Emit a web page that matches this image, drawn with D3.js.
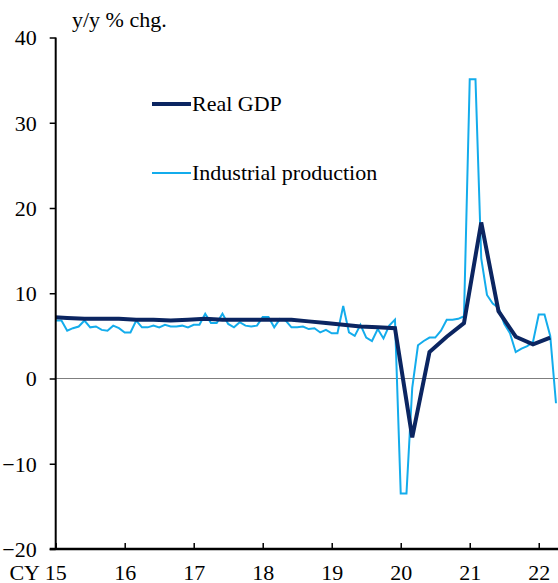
<!DOCTYPE html>
<html>
<head>
<meta charset="utf-8">
<script src="https://cdn.jsdelivr.net/npm/d3@7"></script>
<style>
  html, body { margin: 0; padding: 0; background: #fff; }
  svg { display: block; font-family: "Liberation Serif", "Times New Roman", serif; }
</style>
</head>
<body>
<div id="chart"></div>
<script>
// China: real GDP (quarterly, plotted at quarter end) and industrial production (monthly), y/y %
const yTicks = [-20, -10, 0, 10, 20, 30, 40];
const xTicks = [2015, 2016, 2017, 2018, 2019, 2020, 2021, 2022];
const xTickLabels = ['CY 15', '16', '17', '18', '19', '20', '21', '22'];
const seriesNames = ['Real GDP', 'Industrial production'];

// quarterly, 2014Q4 .. 2022Q1
const gdpValues = [
  7.2,
  7.1, 7.0, 7.0, 7.0,
  6.9, 6.9, 6.8, 6.9,
  7.0, 6.9, 6.9, 6.9,
  6.9, 6.9, 6.7, 6.5,
  6.3, 6.1, 6.0, 5.9,
  -6.9, 3.1, 4.9, 6.5,
  18.3, 7.9, 4.9, 4.0,
  4.8,
];

// monthly, Jan 2015 .. Apr 2022 (Jan/Feb share the combined figure)
const ipValues = [
  6.8, 6.8, 5.6, 5.9, 6.1, 6.8, 6.0, 6.1, 5.7, 5.6, 6.2, 5.9,
  5.4, 5.4, 6.8, 6.0, 6.0, 6.2, 6.0, 6.3, 6.1, 6.1, 6.2, 6.0,
  6.3, 6.3, 7.6, 6.5, 6.5, 7.6, 6.4, 6.0, 6.6, 6.2, 6.1, 6.2,
  7.2, 7.2, 6.0, 7.0, 6.8, 6.0, 6.0, 6.1, 5.8, 5.9, 5.4, 5.7,
  5.3, 5.3, 8.5, 5.4, 5.0, 6.3, 4.8, 4.4, 5.8, 4.7, 6.2, 6.9,
  -13.5, -13.5, -1.1, 3.9, 4.4, 4.8, 4.8, 5.6, 6.9, 6.9, 7.0, 7.3,
  35.1, 35.1, 14.1, 9.8, 8.8, 8.3, 6.4, 5.3, 3.1, 3.5, 3.8, 4.3,
  7.5, 7.5, 5.0, -2.9,
];

const W = 558, H = 583;
const plotLeft = 55.7, plotTop = 37.5, plotBottom = 549, plotRight = 558;
const gdpColor = '#0b2561', ipColor = '#13acec';
const fontSize = 22;
const serif = '"Liberation Serif", "Times New Roman", serif';

const gdpData = gdpValues.map((v, i) => ({ t: 2015 + (3 * i - 1) / 12, v }));
const ipData = ipValues.map((v, i) => ({ t: 2015 + i / 12, v }));

const x = d3.scaleLinear().domain([2015, 2022 + 3.35 / 12]).range([plotLeft, plotRight]);
const y = d3.scaleLinear().domain([-20, 40]).range([plotBottom, plotTop]);

const svg = d3.select('#chart').append('svg')
  .attr('width', W).attr('height', H);

svg.append('defs').append('clipPath').attr('id', 'plot')
  .append('rect')
  .attr('x', plotLeft).attr('y', 0)
  .attr('width', plotRight - plotLeft).attr('height', plotBottom);

// zero line
svg.append('line')
  .attr('x1', plotLeft).attr('x2', plotRight)
  .attr('y1', y(0)).attr('y2', y(0))
  .attr('stroke', '#7f7f7f').attr('stroke-width', 1.2);

const line = d3.line().x((d) => x(d.t)).y((d) => y(d.v));

const plotG = svg.append('g').attr('clip-path', 'url(#plot)');

plotG.append('path')
  .datum(ipData)
  .attr('fill', 'none')
  .attr('stroke', ipColor)
  .attr('stroke-width', 2)
  .attr('stroke-linejoin', 'miter')
  .attr('d', line);

plotG.append('path')
  .datum(gdpData)
  .attr('fill', 'none')
  .attr('stroke', gdpColor)
  .attr('stroke-width', 4)
  .attr('stroke-linejoin', 'miter')
  .attr('d', line);

// y axis
const yAxis = svg.append('g')
  .attr('transform', `translate(${plotLeft},0)`)
  .call(d3.axisLeft(y).tickValues(yTicks).tickSize(6).tickPadding(4).tickFormat(d3.format('d')));
yAxis.select('.domain').attr('stroke', '#000').attr('stroke-width', 2).attr('d', `M0,${plotTop}V${plotBottom}`);
yAxis.selectAll('.tick line').attr('stroke', '#000').attr('stroke-width', 1.5);
yAxis.selectAll('.tick text')
  .attr('font-size', fontSize)
  .attr('font-family', serif)
  .attr('fill', '#000')
  .attr('x', -19)
  .attr('dy', '0.34em');

// x axis, ticks point up into the plot
const xAxis = svg.append('g')
  .attr('transform', `translate(0,${plotBottom})`)
  .call(d3.axisBottom(x).tickValues(xTicks).tickSizeInner(-6).tickSizeOuter(0)
    .tickFormat((d, i) => xTickLabels[i]));
xAxis.select('.domain').attr('stroke', '#000').attr('stroke-width', 2.5).attr('d', `M${plotLeft - 6},0H${plotRight}`);
xAxis.selectAll('.tick line').attr('stroke', '#000').attr('stroke-width', 1.5);
xAxis.selectAll('.tick text')
  .attr('font-size', fontSize)
  .attr('font-family', serif)
  .attr('fill', '#000')
  .attr('y', 30.5)
  .attr('dy', 0)
  .attr('text-anchor', (d, i) => (i === 0 ? 'end' : 'middle'))
  .attr('x', (d, i) => (i === 0 ? 10.5 : 0));

// unit label
svg.append('text')
  .attr('x', 72).attr('y', 27)
  .attr('font-size', fontSize)
  .attr('font-family', serif)
  .attr('fill', '#000')
  .text('y/y % chg.');

// legend
const legend = svg.append('g');
const legendRows = [
  { name: seriesNames[0], color: gdpColor, width: 4, ly: 104 },
  { name: seriesNames[1], color: ipColor, width: 2, ly: 173 },
];
legendRows.forEach((r) => {
  legend.append('line')
    .attr('x1', 152).attr('x2', 191)
    .attr('y1', r.ly).attr('y2', r.ly)
    .attr('stroke', r.color).attr('stroke-width', r.width);
  legend.append('text')
    .attr('x', 192).attr('y', r.ly + 7)
    .attr('font-size', fontSize)
    .attr('font-family', serif)
    .attr('fill', '#000')
    .text(r.name);
});
</script>
</body>
</html>
